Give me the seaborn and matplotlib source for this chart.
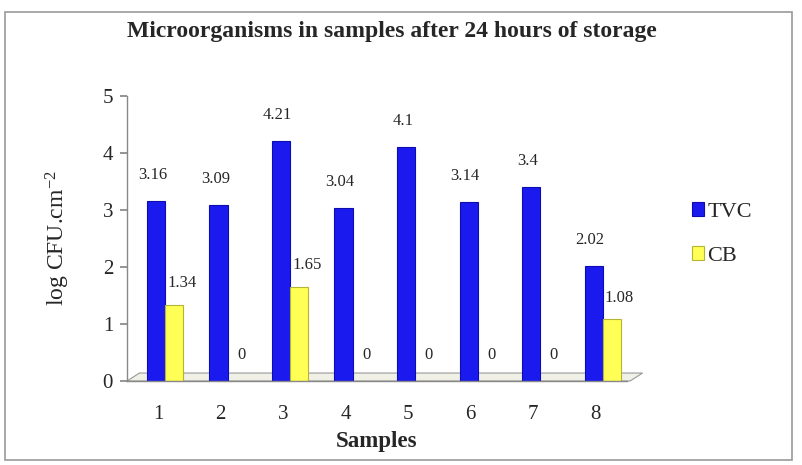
import matplotlib
matplotlib.use("Agg")
import matplotlib.pyplot as plt
import seaborn as sns
import pandas as pd
import numpy as np
from matplotlib.patches import Rectangle, Polygon

samples = ["1", "2", "3", "4", "5", "6", "7", "8"]
tvc = [3.16, 3.09, 4.21, 3.04, 4.1, 3.14, 3.4, 2.02]
cb = [1.34, 0, 1.65, 0, 0, 0, 0, 1.08]
series = ["TVC", "CB"]
title = "Microorganisms in samples after 24 hours of storage"

df = pd.DataFrame({
    "Sample": samples * 2,
    "value": tvc + cb,
    "Series": [series[0]] * len(samples) + [series[1]] * len(samples),
})

sns.set_theme(style="white")
plt.rcParams["font.family"] = ["Liberation Serif", "DejaVu Serif"]
plt.rcParams["mathtext.fontset"] = "custom"
plt.rcParams["mathtext.rm"] = "Liberation Serif"
plt.rcParams["mathtext.it"] = "Liberation Serif:italic"
plt.rcParams["mathtext.bf"] = "Liberation Serif:bold"

fig = plt.figure(figsize=(8.03, 4.65), dpi=100)
ax = fig.add_axes([127 / 803, 84 / 465, 500 / 803, 285 / 465])

palette = {"TVC": "#1a1aee", "CB": "#ffff55"}
sns.barplot(data=df, x="Sample", y="value", hue="Series", palette=palette,
            width=0.58, ax=ax, legend=True, saturation=1, linewidth=0.8,
            order=samples, hue_order=series)

shift = 0.11
for p in ax.patches:
    fc = p.get_facecolor()
    if fc[2] > 0.5 and fc[0] < 0.5:
        p.set_edgecolor("#0c0cb0")
    else:
        p.set_edgecolor("#b5b535")
    p.set_x(p.get_x() + shift)
    p.set_zorder(2)

ax.set_ylim(0, 5)
ax.set_xlim(-0.5, 7.5)
ax.set_yticks([0, 1, 2, 3, 4, 5])
ax.set_yticklabels(["0", "1", "2", "3", "4", "5"], fontsize=15)
ax.set_xticks(range(8))
ax.set_xticklabels(samples, fontsize=15)
ax.set_xticks(np.arange(-0.5, 8, 1), minor=True)
ax.tick_params(axis="x", which="major", length=0, pad=17)
ax.tick_params(axis="x", which="minor", length=5, color="#888888", direction="out")
ax.tick_params(axis="y", which="major", length=5, color="#888888", direction="out", left=True, pad=5)

for s in ["top", "right"]:
    ax.spines[s].set_visible(False)
for s in ["left", "bottom"]:
    ax.spines[s].set_color("#888888")
    ax.spines[s].set_linewidth(1.0)

# 3D-like floor
floor = Polygon([[-0.5, 0], [-0.3, 0.14], [7.75, 0.14], [7.55, 0]], closed=True,
                facecolor="#f0f0e6", edgecolor="#999999", linewidth=0.8,
                zorder=0.5, clip_on=False)
ax.add_patch(floor)

# value labels
for i, v in enumerate(tvc):
    ax.annotate(str(v), (i, v), xytext=(-4, 13), textcoords="offset points",
                ha="center", va="bottom", fontsize=12)
for i, v in enumerate(cb):
    ax.annotate(str(v), (i + 0.265, v), xytext=(5 if v > 0 else 3, 10 if v > 0 else 13),
                textcoords="offset points", ha="center", va="bottom", fontsize=12)

ax.set_xlabel("Samples", fontsize=16.5, fontweight="bold", labelpad=5)
ax.set_ylabel(r"log CFU.cm$^{\mathdefault{-2}}$", fontsize=17, labelpad=22)

leg = ax.legend(loc="center left", bbox_to_anchor=(1.09, 0.515), frameon=False,
                fontsize=16, handlelength=0.55, handleheight=0.55, handletextpad=0.15,
                labelspacing=1.1)

fig.text(392 / 803, 1 - 32 / 465, title, ha="center", va="center",
         fontsize=17, fontweight="bold")

fig.patches.append(Rectangle((5 / 803, 5 / 465), 787 / 803, 448 / 465,
                             transform=fig.transFigure, fill=False,
                             edgecolor="#999999", linewidth=1.2))

fig.savefig("out.png", dpi=100)
